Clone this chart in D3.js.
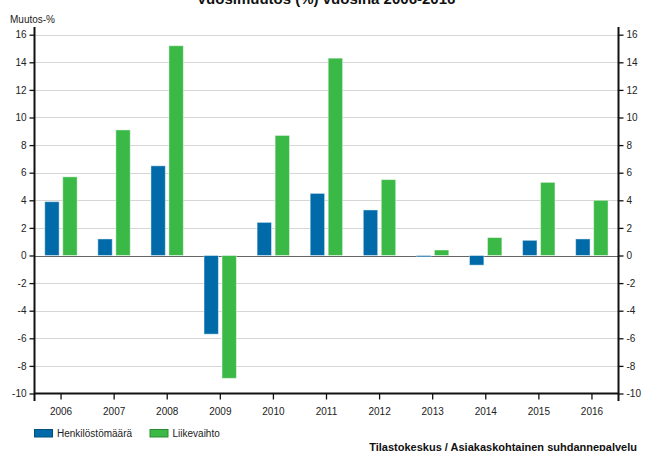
<!DOCTYPE html>
<html>
<head>
<meta charset="utf-8">
<script src="https://cdn.jsdelivr.net/npm/d3@7"></script>
<style>
  body { margin: 0; background: #fff; }
  svg { display: block; font-family: "Liberation Sans", Arial, sans-serif; }
</style>
</head>
<body>
<div id="chart"></div>
<script>
// data
const years = ["2006", "2007", "2008", "2009", "2010", "2011", "2012", "2013", "2014", "2015", "2016"];
const henkilosto = [3.9, 1.2, 6.5, -5.7, 2.4, 4.5, 3.3, -0.1, -0.7, 1.1, 1.2];
const liikevaihto = [5.7, 9.1, 15.2, -8.9, 8.7, 14.3, 5.5, 0.4, 1.3, 5.3, 4.0];
const seriesNames = ["Henkilöstömäärä", "Liikevaihto"];
const colors = ["#006ba8", "#3ab946"];
const yTicks = [-10, -8, -6, -4, -2, 0, 2, 4, 6, 8, 10, 12, 14, 16];

const width = 647, height = 451;
const plotLeft = 34.5, plotRight = 618.5, plotTop = 34.7, plotBottom = 393.5;

const rows = years.map((y, i) => ({year: y, values: [henkilosto[i], liikevaihto[i]]}));

const x = d3.scaleBand().domain(years).range([plotLeft, plotRight]);
const x1 = d3.scaleBand().domain(d3.range(seriesNames.length)).range([-16.3, 16.1]).paddingInner(0.2);
const y = d3.scaleLinear().domain([-10, 16]).range([plotBottom, plotTop]);

const svg = d3.select("#chart").append("svg")
    .attr("width", width)
    .attr("height", height)
    .attr("viewBox", [0, 0, width, height]);

// title (clipped at the top like the original)
svg.append("text")
    .attr("x", 326)
    .attr("y", 4)
    .attr("text-anchor", "middle")
    .attr("font-size", 15)
    .attr("font-weight", "bold")
    .attr("fill", "#111")
    .text("Vuosimuutos (%) vuosina 2006-2016");

svg.append("text")
    .attr("x", 10)
    .attr("y", 23)
    .attr("font-size", 10)
    .attr("fill", "#222")
    .text("Muutos-%");

// gridlines
svg.append("g")
  .selectAll("line")
  .data(yTicks.filter(d => d !== -10 && d !== 0))
  .join("line")
    .attr("x1", plotLeft).attr("x2", plotRight)
    .attr("y1", d => Math.round(y(d)) + 0.5)
    .attr("y2", d => Math.round(y(d)) + 0.5)
    .attr("stroke", "#d6d6d6");

// zero line
svg.append("line")
    .attr("x1", plotLeft).attr("x2", plotRight)
    .attr("y1", Math.round(y(0)) + 0.5).attr("y2", Math.round(y(0)) + 0.5)
    .attr("stroke", "#666")
    .attr("stroke-width", 1.2);

// bars
svg.append("g")
  .selectAll("g")
  .data(rows)
  .join("g")
    .attr("transform", d => `translate(${x(d.year) + x.bandwidth() / 2},0)`)
  .selectAll("rect")
  .data(d => d.values)
  .join("rect")
    .attr("x", (d, i) => x1(i))
    .attr("width", x1.bandwidth())
    .attr("y", d => y(Math.max(0, d)))
    .attr("height", d => Math.abs(y(d) - y(0)))
    .attr("fill", (d, i) => colors[i])
    .attr("stroke", "#fff")
    .attr("stroke-opacity", 0.45)
    .attr("stroke-width", 1);

// axes
const fmt = d => String(d);
const yLeft = svg.append("g")
    .attr("transform", `translate(${plotLeft},0)`)
    .call(d3.axisLeft(y).tickValues(yTicks).tickFormat(fmt).tickSize(5).tickPadding(3));
const yRight = svg.append("g")
    .attr("transform", `translate(${plotRight},0)`)
    .call(d3.axisRight(y).tickValues(yTicks).tickFormat(fmt).tickSize(5).tickPadding(3));
const xAxis = svg.append("g")
    .attr("transform", `translate(0,${plotBottom})`)
    .call(d3.axisBottom(x).tickSize(6).tickPadding(8));

[yLeft, yRight, xAxis].forEach(g => {
  g.attr("font-family", null);
  g.select(".domain").remove();
  g.selectAll("text").attr("font-size", 10).attr("fill", "#222");
  g.selectAll(".tick line").attr("stroke", "#111").attr("stroke-width", 1.3);
});

svg.append("line")
    .attr("x1", plotLeft).attr("x2", plotRight)
    .attr("y1", plotBottom).attr("y2", plotBottom)
    .attr("stroke", "#111").attr("stroke-width", 2);
[plotLeft, plotRight].forEach(px => svg.append("line")
    .attr("x1", px).attr("x2", px)
    .attr("y1", 27).attr("y2", 401)
    .attr("stroke", "#111").attr("stroke-width", 2));

// legend
const legendX = [34, 149.5];
const legend = svg.append("g")
  .selectAll("g")
  .data(seriesNames)
  .join("g")
    .attr("transform", (d, i) => `translate(${legendX[i]},429)`);
legend.append("rect")
    .attr("x", 0.5).attr("y", 0.5)
    .attr("width", 18).attr("height", 7.5)
    .attr("fill", (d, i) => colors[i])
    .attr("stroke", (d, i) => d3.color(colors[i]).darker(0.8));
legend.append("text")
    .attr("x", 23)
    .attr("y", 8)
    .attr("font-size", 10)
    .attr("fill", "#222")
    .text(d => d);

// source
svg.append("text")
    .attr("x", 637)
    .attr("y", 451)
    .attr("text-anchor", "end")
    .attr("font-size", 11)
    .attr("font-weight", "bold")
    .attr("fill", "#111")
    .text("Tilastokeskus / Asiakaskohtainen suhdannepalvelu");
</script>
</body>
</html>
